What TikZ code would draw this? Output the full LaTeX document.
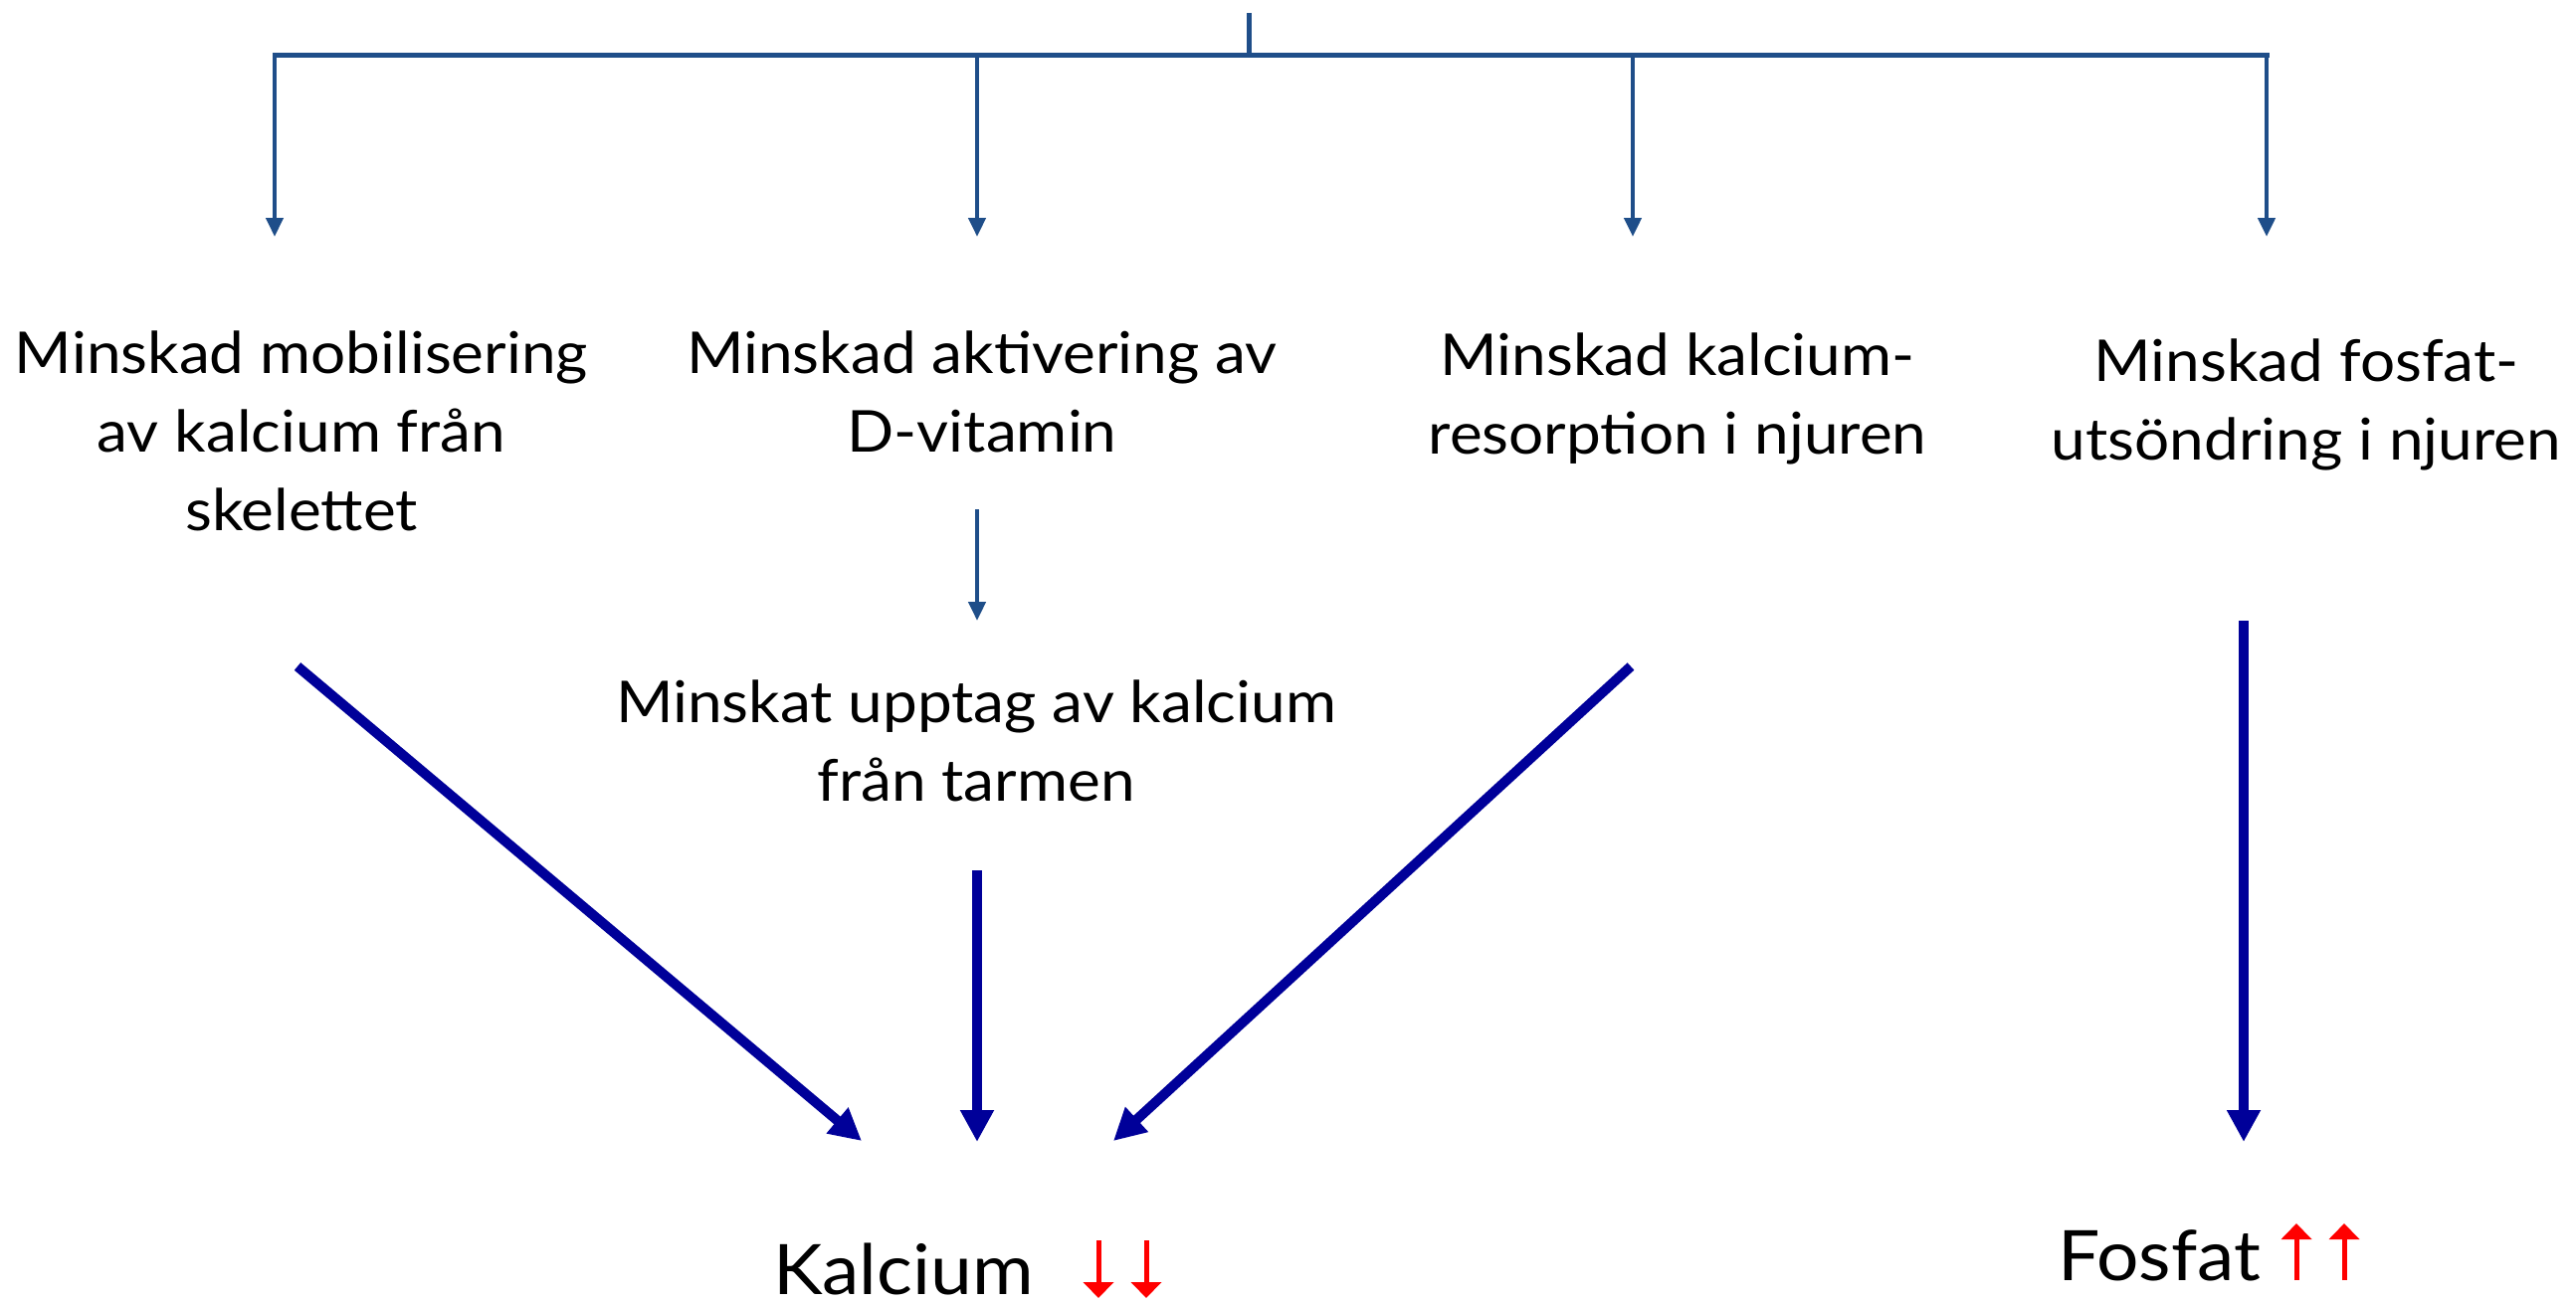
\documentclass[tikz,border=0pt]{standalone}
\usepackage{fontspec}
\setmainfont{Lato}[FakeStretch=1.07]
\usetikzlibrary{arrows.meta}
\definecolor{barblue}{HTML}{1F4E89}
\definecolor{navyarrow}{HTML}{000099}
\definecolor{redarrow}{HTML}{FF0000}
\begin{document}
\begin{tikzpicture}[x=1pt,y=-1pt,
  txt/.style={inner sep=0pt,align=center,anchor=north,font=\fontsize{58}{79}\selectfont},
  big/.style={inner sep=0pt,anchor=base west,text depth=0pt,font=\fontsize{70}{80}\selectfont},
  thin/.style={draw=barblue,line width=4.5pt,-{Triangle[width=17pt,length=19pt]}},
  barline/.style={draw=barblue,line width=5pt},
  thick/.style={draw=navyarrow,line width=10pt,-{Triangle[width=32pt,length=32pt]}},
  redarr/.style={draw=redarrow,line width=5pt,-{Triangle[width=30pt,length=16pt]}}]
\useasboundingbox (0,0) rectangle (2589,1311);
% top bracket
\coordinate (top) at (1255,13);
\coordinate (mid) at (1255,56);
\coordinate (bl) at (276,56);
\coordinate (br) at (2278,56);
\coordinate (b2) at (982,56);
\coordinate (b3) at (1641,56);
\coordinate (t1) at (276,238);
\coordinate (t2) at (982,238);
\coordinate (t3) at (1641,238);
\coordinate (t4) at (2278,238);
\draw[barline] (top) -- (mid);
\draw[barline,line cap=rect] (bl) -- (br);
\draw[thin] (bl) -- (t1);
\draw[thin] (b2) -- (t2);
\draw[thin] (b3) -- (t3);
\draw[thin] (br) -- (t4);
% text blocks
\node[txt] (A) at (303,333) {Minskad mobilisering\\av kalcium från\\skelettet};
\node[txt] (B) at (987,333) {Minskad aktivering av\\D-vitamin};
\node[txt] (C) at (1686,335) {Minskad kalcium-\\resorption i njuren};
\node[txt] (D) at (2318,341) {Minskad fosfat-\\utsöndring i njuren};
\node[txt] (E) at (981,684) {Minskat upptag av kalcium\\från tarmen};
% B -> E
\coordinate (s5) at (982,512);
\coordinate (e5) at (982,624);
\draw[thin] (s5) -- (e5);
% thick arrows
\coordinate (sA) at (299,670);
\coordinate (eA) at (866,1147);
\coordinate (sE) at (982,875);
\coordinate (eE) at (982,1148);
\coordinate (sC) at (1639,670);
\coordinate (eC) at (1119,1147);
\coordinate (sD) at (2255,624);
\coordinate (eD) at (2255,1148);
\draw[thick] (sA) -- (eA);
\draw[thick] (sE) -- (eE);
\draw[thick] (sC) -- (eC);
\draw[thick] (sD) -- (eD);
% results
\node[big] (kal) at (777,1301) {Kalcium};
\node[big] (fos) at (2068,1287) {Fosfat};
\coordinate (k1s) at (1104,1247);
\coordinate (k1e) at (1104,1305);
\coordinate (k2s) at (1152,1247);
\coordinate (k2e) at (1152,1305);
\draw[redarr] (k1s) -- (k1e);
\draw[redarr] (k2s) -- (k2e);
\coordinate (f1s) at (2308,1287);
\coordinate (f1e) at (2308,1230);
\coordinate (f2s) at (2356,1287);
\coordinate (f2e) at (2356,1230);
\draw[redarr] (f1s) -- (f1e);
\draw[redarr] (f2s) -- (f2e);
\end{tikzpicture}
\end{document}
